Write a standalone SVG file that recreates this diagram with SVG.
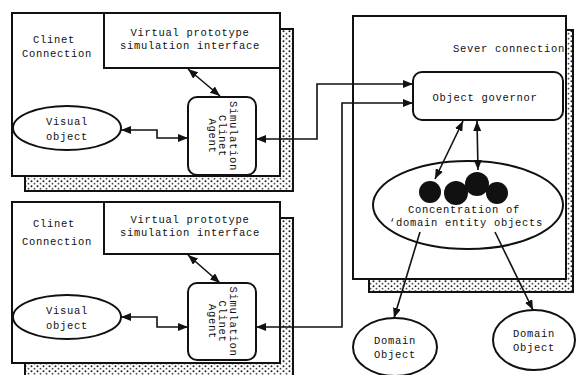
<svg xmlns="http://www.w3.org/2000/svg" width="576" height="375" viewBox="0 0 576 375">
<style>
.box{fill:#fff;stroke:#111;stroke-width:2}
.shadow{fill:url(#dots);stroke:#111;stroke-width:2}
.t{font-family:"Liberation Mono","DejaVu Sans Mono",monospace;font-size:10.5px;letter-spacing:0.7px;fill:#111}
.c{text-anchor:middle}
.ln{fill:none;stroke:#111;stroke-width:1.6}
.arr2{marker-start:url(#ah);marker-end:url(#ah)}
.arr1{marker-end:url(#ah)}
</style>
<defs>
<pattern id="dots" width="6" height="5" patternUnits="userSpaceOnUse">
<rect width="6" height="5" fill="#fff"/>
<circle cx="1.5" cy="1.2" r="1" fill="#222"/>
<circle cx="4.5" cy="3.7" r="0.9" fill="#444"/>
</pattern>
<marker id="ah" viewBox="0 0 10 8" refX="10" refY="4" markerWidth="10" markerHeight="8" markerUnits="userSpaceOnUse" orient="auto-start-reverse">
<path d="M0,0 L10,4 L0,8 z" fill="#111"/>
</marker>
</defs>

<g id="client1">
<rect class="shadow" x="25" y="29" width="268" height="162"/>
<rect class="box" x="12" y="13" width="268" height="163"/>
<text class="t" x="33" y="43">Clinet</text>
<text class="t" x="22" y="57">Connection</text>
</g>
<g id="interface1">
<rect class="box" x="104" y="13" width="176" height="55"/>
<text class="t c" x="190" y="36">Virtual prototype</text>
<text class="t c" x="190" y="49">simulation interface</text>
</g>
<g id="agent1">
<rect class="box" x="188" y="97" width="68" height="78" rx="9"/>
<g transform="translate(222,136) rotate(90)">
<text class="t c" x="0" y="-7.5">Simulation</text>
<text class="t c" x="0" y="3.5">Clinet</text>
<text class="t c" x="0" y="13.5">Agent</text>
</g>
</g>
<g id="visual1">
<ellipse class="box" cx="67" cy="128" rx="54" ry="22"/>
<text class="t c" x="67" y="125">Visual</text>
<text class="t c" x="67" y="140">object</text>
</g>

<g id="client2">
<rect class="shadow" x="25" y="218" width="268" height="165"/>
<rect class="box" x="12" y="202" width="268" height="161"/>
<text class="t" x="33" y="227">Clinet</text>
<text class="t" x="22" y="245">Connection</text>
</g>
<g id="interface2">
<rect class="box" x="104" y="202" width="176" height="52"/>
<text class="t c" x="190" y="223">Virtual prototype</text>
<text class="t c" x="190" y="236">simulation interface</text>
</g>
<g id="agent2">
<rect class="box" x="188" y="283" width="68" height="77" rx="9"/>
<g transform="translate(222,321.5) rotate(90)">
<text class="t c" x="0" y="-7.5">Simulation</text>
<text class="t c" x="0" y="3.5">Clinet</text>
<text class="t c" x="0" y="13.5">Agent</text>
</g>
</g>
<g id="visual2">
<ellipse class="box" cx="67" cy="317" rx="54" ry="22"/>
<text class="t c" x="67" y="314">Visual</text>
<text class="t c" x="67" y="329">object</text>
</g>

<g id="server">
<rect class="shadow" x="369" y="30" width="204" height="262"/>
<rect class="box" x="353" y="16" width="213" height="263"/>
<text class="t" x="453" y="52">Sever connection</text>
</g>
<g id="governor">
<rect class="box" x="413" y="72" width="150" height="48" rx="9"/>
<text class="t c" x="485" y="101">Object governor</text>
</g>
<g id="concentration">
<ellipse class="box" cx="468" cy="205" rx="95" ry="44"/>
<circle cx="430" cy="192" r="11" fill="#111"/>
<circle cx="456" cy="193" r="12" fill="#111"/>
<circle cx="477" cy="184" r="12" fill="#111"/>
<circle cx="497" cy="193" r="11" fill="#111"/>
<text class="t c" x="464" y="213">Concentration of</text>
<text class="t c" x="466" y="226">‘domain entity objects</text>
</g>
<g id="domain1">
<ellipse class="box" cx="395" cy="347" rx="42" ry="29"/>
<text class="t c" x="395" y="344">Domain</text>
<text class="t c" x="395" y="358">Object</text>
</g>
<g id="domain2">
<ellipse class="box" cx="534" cy="340" rx="41" ry="30"/>
<text class="t c" x="534" y="337">Domain</text>
<text class="t c" x="534" y="351">Object</text>
</g>

<g id="connectors">
<path class="ln arr2" d="M188,69 L220,96"/>
<path class="ln arr2" d="M121,130 H157 V138 H188"/>
<path class="ln arr2" d="M256,139 H317 V84 H413"/>
<path class="ln arr2" d="M188,255 L220,283"/>
<path class="ln arr2" d="M121,317 H157 V327 H188"/>
<path class="ln arr2" d="M256,327 H342 V103 H413"/>
<path class="ln arr2" d="M463,121 L435,179"/>
<path class="ln arr2" d="M477,121 L478,170"/>
<path class="ln arr1" d="M420,232 L394,318"/>
<path class="ln arr1" d="M495,232 L533,310"/>
</g>
</svg>
